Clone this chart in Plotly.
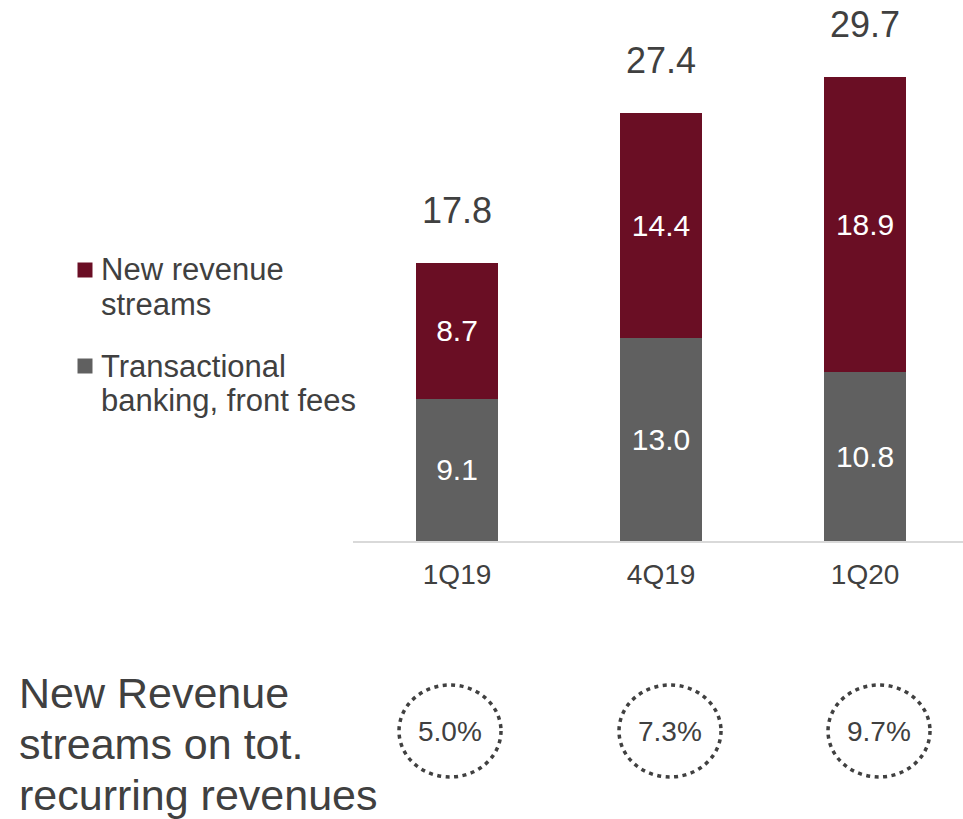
import plotly.graph_objects as go

# Data (EUR m)
quarters = ["1Q19", "4Q19", "1Q20"]
transactional = [9.1, 13.0, 10.8]
new_streams = [8.7, 14.4, 18.9]
totals = [17.8, 27.4, 29.7]
share_new = [5.0, 7.3, 9.7]  # % of total recurring revenues

legend_new = ["New revenue", "streams"]
legend_trans = ["Transactional", "banking, front fees"]
footer_lines = ["New Revenue", "streams on tot.", "recurring revenues"]

# Styling
W, H = 963, 819
RED = "#6a0e24"
GREY = "#606060"
TEXT = "#404040"
FONT = "Liberation Sans, Arial, sans-serif"


def px(x):
    return x / W


def py(y):
    return 1 - y / H


fig = go.Figure()
fig.add_trace(go.Bar(
    x=quarters, y=transactional, name="Transactional banking, front fees",
    marker=dict(color=GREY, line=dict(width=0)),
    texttemplate="%{y:.1f}", textposition="inside", insidetextanchor="middle",
    textangle=0, textfont=dict(color="white", size=30, family=FONT),
    width=0.40,
))
fig.add_trace(go.Bar(
    x=quarters, y=new_streams, name="New revenue streams",
    marker=dict(color=RED, line=dict(width=0)),
    texttemplate="%{y:.1f}", textposition="inside", insidetextanchor="middle",
    textangle=0, textfont=dict(color="white", size=30, family=FONT),
    width=0.40,
))

annotations = []
# Totals above each stack
for q, t in zip(quarters, totals):
    annotations.append(dict(
        x=q, y=t, xref="x", yref="y", text=f"{t:.1f}", showarrow=False,
        yanchor="middle", yshift=52, font=dict(size=36, color=TEXT, family=FONT),
    ))

# Legend (custom, two-line labels)
shapes = []
legend_items = [(RED, legend_new, 270), (GREY, legend_trans, 366)]
for color, lines, y0 in legend_items:
    shapes.append(dict(
        type="rect", xref="paper", yref="paper",
        x0=px(77.5), x1=px(92.5), y0=py(y0 - 7.5), y1=py(y0 + 7.5),
        fillcolor=color, line=dict(width=0),
    ))
    for i, line in enumerate(lines):
        annotations.append(dict(
            x=px(98.5), y=py(y0 + i * 34.5), xref="paper", yref="paper",
            text=line, showarrow=False, xanchor="left", yanchor="middle",
            font=dict(size=31, color=TEXT, family=FONT),
        ))

# Footer caption
for i, line in enumerate(footer_lines):
    annotations.append(dict(
        x=px(17), y=py(693 + i * 51), xref="paper", yref="paper",
        text=line, showarrow=False, xanchor="left", yanchor="middle",
        font=dict(size=43, color=TEXT, family=FONT),
    ))

# Dotted circles with the share of new revenue streams
circle_centers = [450, 670, 879]
for cx, v in zip(circle_centers, share_new):
    shapes.append(dict(
        type="circle", xref="paper", yref="paper",
        x0=px(cx - 51), x1=px(cx + 51), y0=py(731 + 46), y1=py(731 - 46),
        line=dict(color=TEXT, width=3.5, dash="4px,4.5px"),
    ))
    annotations.append(dict(
        x=px(cx), y=py(731), xref="paper", yref="paper",
        text=f"{v:.1f}%", showarrow=False, xanchor="center", yanchor="middle",
        font=dict(size=28, color=TEXT, family=FONT),
    ))

fig.update_layout(
    width=W, height=H, margin=dict(l=0, r=0, t=0, b=0),
    barmode="stack", showlegend=False,
    paper_bgcolor="white", plot_bgcolor="white",
    font=dict(family=FONT, color=TEXT),
    annotations=annotations, shapes=shapes,
    xaxis=dict(
        domain=[px(353), 1.0], range=[-0.51, 2.48],
        showline=True, linecolor="#d9d9d9", linewidth=2,
        ticks="", showgrid=False, zeroline=False, ticklabelstandoff=7,
        tickfont=dict(size=28, color=TEXT, family=FONT),
    ),
    yaxis=dict(
        domain=[py(541), 1.0], range=[0, 541 / 15.63],
        visible=False, showgrid=False, zeroline=False,
    ),
)

fig.write_html("out.html")
